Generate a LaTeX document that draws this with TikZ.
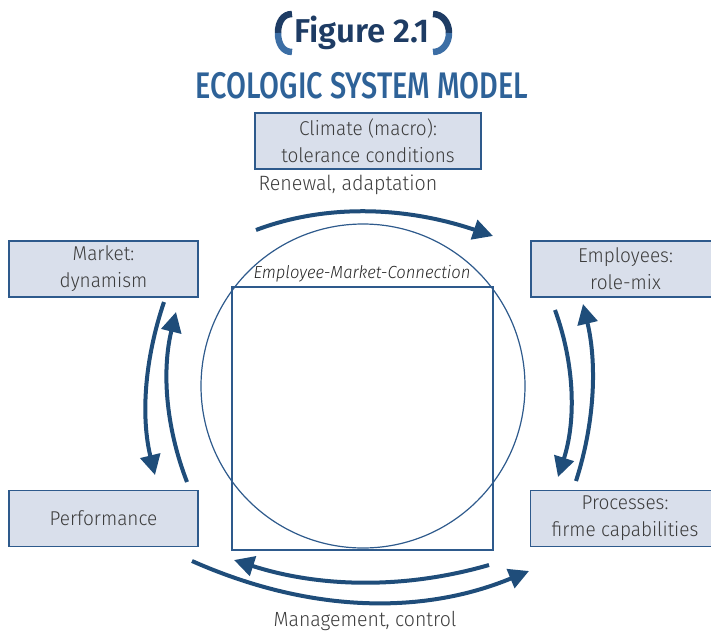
\documentclass[tikz,border=0pt]{standalone}
\usepackage{fontspec}
\setmainfont{Fira Sans}[UprightFont=* Light, ItalicFont=* Light Italic, FakeStretch=0.95]
\newfontfamily\headfont{Fira Sans}[UprightFont=* Medium, FakeStretch=0.78]
\newfontfamily\figfont{Fira Sans}[UprightFont=* SemiBold]
\usetikzlibrary{arrows.meta}
\definecolor{boxfill}{RGB}{217,223,235}
\definecolor{boxline}{RGB}{46,90,140}
\definecolor{arrowblue}{RGB}{31,77,122}
\definecolor{titleblue}{RGB}{46,98,152}
\definecolor{navy}{RGB}{30,60,100}
\definecolor{parenlight}{RGB}{60,110,165}
\definecolor{textgrey}{RGB}{60,60,60}
\tikzset{
  factor/.style={draw=boxline, line width=1.5pt, fill=boxfill, text=textgrey,
    minimum width=189pt, minimum height=56pt, inner sep=0pt, align=center,
    font=\fontsize{20}{27}\selectfont},
  flow/.style={draw=arrowblue, line width=4pt, -{Triangle[length=20pt,width=20pt]}},
  paren/.style={line width=6.5pt}
}
\begin{document}
\begin{tikzpicture}[x=1pt,y=-1pt]
    \useasboundingbox (0,0) rectangle (711,632);
    % title
    \draw[paren,navy] (292,14) .. controls (283,14) and (278,22) .. (278,33);
    \draw[paren,parenlight] (278,33) .. controls (278,44) and (283,52) .. (292,52);
    \draw[paren,navy] (433,14) .. controls (442,14) and (449,22) .. (449,33);
    \draw[paren,parenlight] (449,33) .. controls (449,44) and (442,52) .. (433,52);
    \node[text=navy, font=\figfont\fontsize{33}{33}\selectfont] (fig) at (362,33) {Figure 2.1};
    \node[text=titleblue, font=\headfont\fontsize{37}{37}\selectfont] (title) at (362,86) {ECOLOGIC SYSTEM MODEL};
    % factors
    \node[factor, minimum width=226pt] (climate) at (368,141) {Climate (macro):\\tolerance conditions};
    \node[factor] (market) at (103.5,269) {Market:\\dynamism};
    \node[factor] (employees) at (625.5,269) {Employees:\\role-mix};
    \node[factor] (performance) at (103.5,518.5) {Performance};
    \node[factor] (processes) at (625,518.5) {Processes:\\firme capabilities};
    % connection
    \draw[boxline, line width=1.2pt] (363,386) circle (162);
    \draw[boxline, line width=1.2pt] (232,287) rectangle (493,550);
    \node[text=black!85, font=\itshape\fontsize{17.5}{17.5}\selectfont] (emc) at (362,274) {Employee-Market-Connection};
    \node[text=textgrey, font=\fontsize{20.7}{20.7}\selectfont] (renewal) at (348,185) {Renewal, adaptation};
    \node[text=textgrey, font=\fontsize{20.5}{20.5}\selectfont] (management) at (365,621) {Management, control};
    % flows
    \coordinate (top a) at (256,230);   \coordinate (top b) at (493,236);
    \coordinate (bin a) at (489,565);   \coordinate (bin b) at (234,560);
    \coordinate (bout a) at (192,561);  \coordinate (bout b) at (529,571);
    \coordinate (lout a) at (164,302);  \coordinate (lout b) at (155,475);
    \coordinate (lin a) at (187,482);   \coordinate (lin b) at (176,312);
    \coordinate (rin a) at (555,310);   \coordinate (rin b) at (558,477);
    \coordinate (rout a) at (576,481);  \coordinate (rout b) at (583,304);
    \draw[flow] (top a) .. controls (325,204) and (404,206) .. (top b);
    \draw[flow] (bin a) .. controls (406,589) and (321,588) .. (bin b);
    \draw[flow] (bout a) .. controls (307,612) and (420,616) .. (bout b);
    \draw[flow] (lout a) .. controls (144,361) and (141,418) .. (lout b);
    \draw[flow] (lin a) .. controls (165,425) and (162,369) .. (lin b);
    \draw[flow] (rin a) .. controls (575,365) and (576,421) .. (rin b);
    \draw[flow] (rout a) .. controls (595,422) and (597,363) .. (rout b);
\end{tikzpicture}
\end{document}
